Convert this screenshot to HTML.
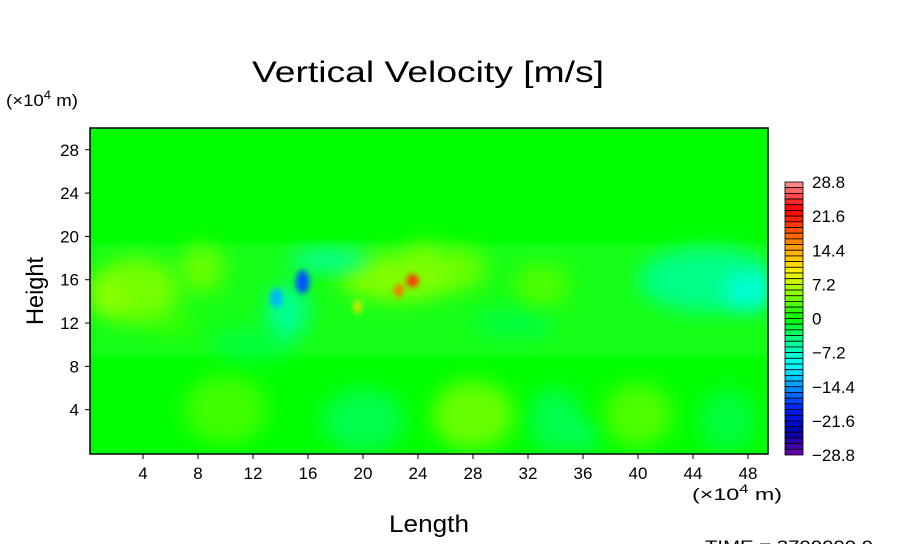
<!DOCTYPE html>
<html><head><meta charset="utf-8"><style>
html,body{margin:0;padding:0;background:#fff;}
svg{display:block;font-family:"Liberation Sans",sans-serif;}
</style></head><body>
<svg id="chart" width="904" height="544" xmlns="http://www.w3.org/2000/svg">
<defs>
<filter id="blur" x="-60%" y="-60%" width="220%" height="220%"><feGaussianBlur stdDeviation="10"/></filter>
<filter id="blurS" x="-80%" y="-80%" width="260%" height="260%"><feGaussianBlur stdDeviation="3"/></filter>
<clipPath id="plotclip"><rect x="90" y="128" width="678" height="326"/></clipPath>
</defs>
<text x="428" y="82" font-size="30" text-anchor="middle" textLength="352" lengthAdjust="spacingAndGlyphs">Vertical Velocity [m/s]</text>
<text x="6" y="106" font-size="17" textLength="72" lengthAdjust="spacingAndGlyphs">(×10<tspan font-size="12" dy="-7">4</tspan><tspan dy="7"> m)</tspan></text>
<text x="43" y="291" font-size="24" text-anchor="middle" textLength="68" lengthAdjust="spacingAndGlyphs" transform="rotate(-90 43 291)">Height</text>
<text x="429" y="532" font-size="24" text-anchor="middle" textLength="80" lengthAdjust="spacingAndGlyphs">Length</text>
<text x="692" y="500" font-size="17" textLength="90" lengthAdjust="spacingAndGlyphs">(×10<tspan font-size="12" dy="-7">4</tspan><tspan dy="7"> m)</tspan></text>
<text x="705" y="552" font-size="17" textLength="168" lengthAdjust="spacingAndGlyphs">TIME = 3700000.0</text>
<g id="field" clip-path="url(#plotclip)"></g>
<rect x="90" y="128" width="678" height="326" fill="none" stroke="#000" stroke-width="1.5"/>
<g id="xticks"></g>
<g id="yticks"></g>
<g id="cbar"></g>
</svg>
<script>
const xTicks=[4,8,12,16,20,24,28,32,36,40,44,48];
const yTicks=[4,8,12,16,20,24,28];
const cbarLabels=[28.8,21.6,14.4,7.2,0,-7.2,-14.4,-21.6,-28.8];
// blobs: x, y (10^4 m), half-widths, value (m/s)
const blobX=[3.5,8.3,1.5,17.5,22.5,27,45,48,33,12,28,10,40,20,34,46.5,36,31,13.7,15.6,22.6,23.6,19.6,24.5,6,14.5];
const blobY=[15,17,14.5,17.8,16.2,17,16,15,15.5,10,3.5,4,3.5,3,3,3,1.5,12,14.3,15.8,15,15.9,13.5,18,12,13];
const blobRX=[3.2,1.6,1.2,3,4.2,2,5,1.8,2,3,3,3,2.5,3,2,2,1,3,0.45,0.5,0.35,0.45,0.25,1.5,2,1.5];
const blobRY=[3,2.2,1.5,0.9,2.2,2,3,1.8,2,1.5,3.2,3.2,3,3,3,3,1,1.5,0.9,1.1,0.6,0.6,0.6,1.5,1,2.5];
const blobV=[4.5,4,5.5,-6,5,4,-4.5,-8,3,-2,4,2.5,3,-2.5,-2.5,-2,-4,-2,-13,-17,17,20,11,4,2,-5];

const X0=88,XS=13.75,Y0=453,YS=10.83;
const xs=v=>X0+v*XS, ys=v=>Y0-v*YS;
const stops=[[-28.8,[110,0,170]],[-24,[0,0,170]],[-19,[0,30,255]],[-14.4,[0,150,255]],[-10,[0,255,255]],[-5,[0,255,150]],[0,[0,255,0]],[5,[130,255,0]],[10,[255,240,0]],[14.4,[255,170,0]],[19,[255,70,0]],[23,[255,0,0]],[28.8,[255,150,150]]];
function cmap(v){
  if(v<=stops[0][0])return `rgb(${stops[0][1]})`;
  for(let i=1;i<stops.length;i++){if(v<=stops[i][0]){const a=stops[i-1],b=stops[i],t=(v-a[0])/(b[0]-a[0]);
    return 'rgb('+a[1].map((c,k)=>Math.round(c+(b[1][k]-c)*t)).join(',')+')';}}
  return `rgb(${stops[stops.length-1][1]})`;
}
const NS='http://www.w3.org/2000/svg';
function mk(t,a,p){const e=document.createElementNS(NS,t);for(const k in a)e.setAttribute(k,a[k]);p.appendChild(e);return e;}
const field=document.getElementById('field');
const bg=mk('rect',{x:90,y:128,width:678,height:326,fill:'#00ff00'},field);


const band=mk('rect',{x:90,y:ys(19.3),width:678,height:ys(9)-ys(19.3),fill:'rgb(40,255,40)',opacity:0.6,filter:'url(#blurS)'},field);


const order=blobV.map((v,i)=>i).sort((a,b)=>Math.abs(blobV[a])-Math.abs(blobV[b]));
order.forEach(i=>{
  const small=Math.abs(blobV[i])>10;
  const e=mk('ellipse',{cx:xs(blobX[i]),cy:ys(blobY[i]),rx:blobRX[i]*XS,ry:blobRY[i]*YS,fill:cmap(blobV[i]),filter:small?'url(#blurS)':'url(#blur)'},field);
  
  
});
const xg=document.getElementById('xticks');
xTicks.forEach(v=>{
  mk('line',{x1:xs(v),x2:xs(v),y1:454,y2:459,stroke:'#000'},xg);
  const t=mk('text',{x:xs(v),y:479,'font-size':17,'text-anchor':'middle'},xg);t.textContent=v;
  
  
});
const yg=document.getElementById('yticks');
yTicks.forEach(v=>{
  mk('line',{x1:85,x2:90,y1:ys(v),y2:ys(v),stroke:'#000'},yg);
  const t=mk('text',{x:79,y:ys(v)+6,'font-size':17,'text-anchor':'end'},yg);t.textContent=v;
  
  
});
const cb=document.getElementById('cbar');
const NB=48,cbTop=182,cbBot=455,cbH=(cbBot-cbTop)/NB;
for(let i=0;i<NB;i++){
  const v=28.8-(i+0.5)*1.2;
  const r=mk('rect',{x:785,y:cbTop+i*cbH,width:18,height:cbH,fill:cmap(v),stroke:'#000','stroke-width':0.8},cb);
  
  
}
cbarLabels.forEach(v=>{
  const y=cbTop+(28.8-v)/57.6*(cbBot-cbTop);
  const t=mk('text',{x:812,y:y+6,'font-size':17},cb);t.textContent=(v<0?'\u2212'+(-v):v);
  
  
});
</script>
</body></html>
